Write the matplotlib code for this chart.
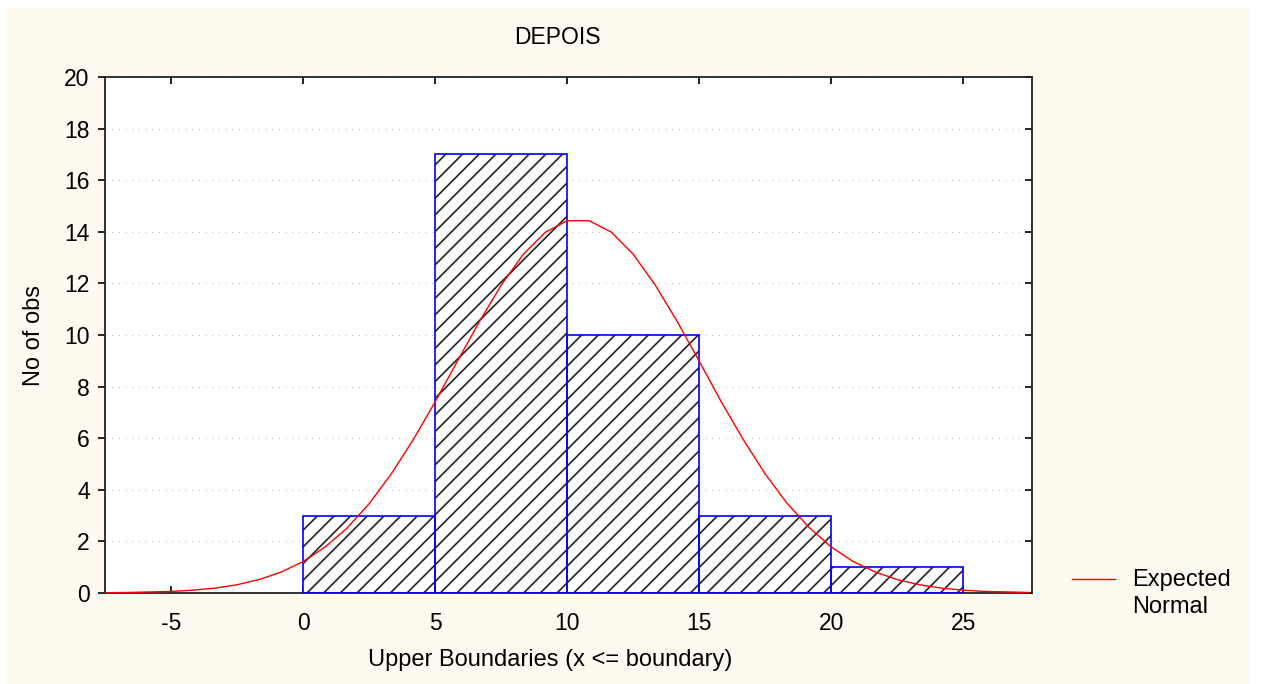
import matplotlib.pyplot as plt
from matplotlib.patches import Rectangle
from matplotlib.lines import Line2D

plt.rcParams['font.family'] = ['Liberation Sans', 'DejaVu Sans']
plt.rcParams['hatch.linewidth'] = 1.2
plt.rcParams['axes.unicode_minus'] = False

# histogram: bin edges (upper boundaries) and counts
bin_lefts = [0, 5, 10, 15, 20]
bin_width = 5
counts = [3, 17, 10, 3, 1]

# expected normal curve
curve_x = [-7.5, -6.67, -5.83, -5.0, -4.17, -3.33, -2.5, -1.67, -0.83, 0.0,
           0.83, 1.67, 2.5, 3.33, 4.17, 5.0, 5.83, 6.67, 7.5, 8.33,
           9.17, 10.0, 10.83, 11.67, 12.5, 13.33, 14.17, 15.0, 15.83, 16.67,
           17.5, 18.33, 19.17, 20.0, 20.83, 21.67, 22.5, 23.33, 24.17, 25.0,
           25.83, 26.67, 27.5]
curve_y = [0.01, 0.02, 0.04, 0.06, 0.11, 0.19, 0.32, 0.52, 0.81, 1.22,
           1.78, 2.52, 3.46, 4.60, 5.94, 7.41, 8.96, 10.51, 11.93, 13.12,
           13.98, 14.43, 14.43, 13.99, 13.13, 11.94, 10.52, 8.98, 7.42, 5.94,
           4.61, 3.47, 2.53, 1.78, 1.22, 0.81, 0.52, 0.32, 0.19, 0.11,
           0.06, 0.04, 0.02]

xticks = [-5, 0, 5, 10, 15, 20, 25]
yticks = [0, 2, 4, 6, 8, 10, 12, 14, 16, 18, 20]

W, H = 1265, 684
fig = plt.figure(figsize=(W / 100, H / 100), dpi=100, facecolor='white')
fig.patches.append(Rectangle((5 / W, 0), 1245 / W, (H - 8) / H,
                             transform=fig.transFigure, facecolor='#FEFAF0',
                             edgecolor='none', zorder=-10))

ax = fig.add_axes([105 / W, (H - 593) / H, 927 / W, 516 / H])
ax.set_facecolor('white')

# hatch first (hatch takes the edge colour), then blue outline
ax.bar(bin_lefts, counts, width=bin_width, align='edge', facecolor='white',
       edgecolor='#222222', hatch='//', linewidth=0, zorder=2)
ax.bar(bin_lefts, counts, width=bin_width, align='edge', facecolor='none',
       edgecolor='#0000FF', linewidth=1.2, zorder=3)

line, = ax.plot(curve_x, curve_y, color='#FF0000', linewidth=1.0, zorder=4)

ax.set_xlim(-7.5, 27.6)
ax.set_ylim(0, 20)
ax.set_xticks(xticks)
ax.set_yticks(yticks)
ax.yaxis.grid(True, linestyle=(0, (1, 5)), color='#BDBDBD', linewidth=0.8)
ax.set_axisbelow(True)

for s in ax.spines.values():
    s.set_linewidth(1.3)
    s.set_color('#222222')

ax.tick_params(axis='x', direction='in', top=True, length=5, width=1.2,
               labelsize=16.5, pad=14)
ax.tick_params(axis='y', direction='out', right=True, length=5, width=1.2,
               labelsize=16.5, pad=6)
# right ticks point inward
for tick in ax.yaxis.get_major_ticks():
    tick.tick2line.set_marker(0)
    tick.tick2line.set_markersize(5)

fig.text(557 / W, 1 - 37 / H, 'DEPOIS', fontsize=16.5, ha='center', va='center')
fig.text(550 / W, 1 - 660 / H, 'Upper Boundaries (x <= boundary)', fontsize=17,
         ha='center', va='center')
ax.set_ylabel('No of obs', fontsize=17, labelpad=14)

# legend drawn by hand
fig.add_artist(Line2D([1072 / W, 1115 / W], [1 - 579 / H, 1 - 579 / H],
                      color=line.get_color(), linewidth=1.0))
fig.text(1132 / W, 1 - 569 / H, 'Expected\nNormal', fontsize=17,
         ha='left', va='top', linespacing=1.3)

fig.savefig('out.png', dpi=100, facecolor='white')
